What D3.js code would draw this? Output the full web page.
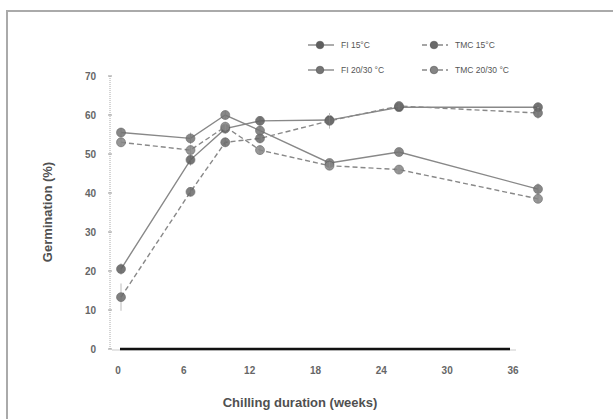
<!DOCTYPE html>
<html>
<head>
<meta charset="utf-8">
<script src="https://cdn.jsdelivr.net/npm/d3@7"></script>
<style>
  body { margin: 0; background: #fff; }
  svg { display: block; }
  text { font-family: "Liberation Sans", Arial, sans-serif; }
</style>
</head>
<body>
<svg id="chart" width="613" height="419"></svg>
<script>
// DATA
var weeks = [0, 6, 9, 12, 18, 24, 36];
var fi15 = [20.5, 48.5, 56.5, 58.5, 58.7, 62, 62];
var tmc15 = [13.3, 40.3, 53, 54, 58.5, 62.3, 60.5];
var fi2030 = [55.5, 54, 60, 56, 47.7, 50.5, 41];
var tmc2030 = [53, 51, 57, 51, 47, 46, 38.5];
var errFi15 = [1.5, 1.5, 1.2, 1.2, 1.5, 1, 1.2];
var errTmc15 = [3.5, 1.2, 1.2, 1.2, 2, 1, 1.5];
var errFi2030 = [1.2, 1.5, 1.2, 1.2, 1, 1, 1.5];
var errTmc2030 = [1.2, 1.2, 1.2, 1.2, 1, 1, 1];
var xTicks = [0, 6, 12, 18, 24, 30, 36];
var yTicks = [0, 10, 20, 30, 40, 50, 60, 70];
var seriesNames = ['FI 15°C', 'TMC 15°C', 'FI 20/30 °C', 'TMC 20/30 °C'];

var series = [
  {name: seriesNames[0], values: fi15, err: errFi15, dash: null, fill: '#5e5e5e'},
  {name: seriesNames[1], values: tmc15, err: errTmc15, dash: '5,3', fill: '#6a6a6a'},
  {name: seriesNames[2], values: fi2030, err: errFi2030, dash: null, fill: '#747474'},
  {name: seriesNames[3], values: tmc2030, err: errTmc2030, dash: '5,3', fill: '#858585'}
];

var svg = d3.select('#chart');

// frame
svg.append('path')
  .attr('d', 'M7,419 L7,11 L613,11')
  .attr('fill', 'none')
  .attr('stroke', '#aaa')
  .attr('stroke-width', 2);

// scales (the scanned figure's points sit on a slightly wider scale than its labels)
var xAxisScale = d3.scaleLinear().domain([0, 36]).range([118, 513]);
var xData = d3.scaleLinear().domain([0, 36]).range([121, 538]);
var y = d3.scaleLinear().domain([0, 70]).range([349, 76]);

// y axis
svg.append('line')
  .attr('x1', 110).attr('x2', 110)
  .attr('y1', y(70)).attr('y2', y(0))
  .attr('stroke', '#aaa').attr('stroke-width', 1).attr('stroke-dasharray', '1,1');

svg.selectAll('.ytick')
  .data(yTicks).enter().append('line')
  .attr('x1', 108).attr('x2', 112)
  .attr('y1', function(d) { return y(d); })
  .attr('y2', function(d) { return y(d); })
  .attr('stroke', '#999');

svg.selectAll('.ylab')
  .data(yTicks).enter().append('text')
  .attr('x', 96)
  .attr('y', function(d) { return y(d); })
  .attr('dy', '0.35em')
  .attr('text-anchor', 'end')
  .attr('font-size', 10)
  .attr('font-weight', 'bold')
  .attr('fill', '#666')
  .text(function(d) { return d; });

// x axis
svg.append('line')
  .attr('x1', 112).attr('x2', 516)
  .attr('y1', y(0) + 1).attr('y2', y(0) + 1)
  .attr('stroke', '#ccc').attr('stroke-width', 1);
svg.append('line')
  .attr('x1', 120).attr('x2', 510)
  .attr('y1', y(0)).attr('y2', y(0))
  .attr('stroke', '#111').attr('stroke-width', 2.5);

svg.selectAll('.xlab')
  .data(xTicks).enter().append('text')
  .attr('x', function(d) { return xAxisScale(d); })
  .attr('y', 374)
  .attr('text-anchor', 'middle')
  .attr('font-size', 10)
  .attr('font-weight', 'bold')
  .attr('fill', '#666')
  .text(function(d) { return d; });

// titles
svg.append('text')
  .attr('x', 300).attr('y', 407)
  .attr('text-anchor', 'middle')
  .attr('font-size', 13)
  .attr('font-weight', 'bold')
  .attr('fill', '#505050')
  .text('Chilling duration (weeks)');

svg.append('text')
  .attr('transform', 'translate(52,212) rotate(-90)')
  .attr('text-anchor', 'middle')
  .attr('font-size', 13)
  .attr('font-weight', 'bold')
  .attr('fill', '#505050')
  .text('Germination (%)');

// lines
var line = d3.line()
  .x(function(d, i) { return xData(weeks[i]); })
  .y(function(d) { return y(d); });

series.forEach(function(s) {
  svg.append('path')
    .datum(s.values)
    .attr('d', line)
    .attr('fill', 'none')
    .attr('stroke', '#888')
    .attr('stroke-width', 1.4)
    .attr('stroke-dasharray', s.dash);

  svg.selectAll(null)
    .data(s.values).enter().append('line')
    .attr('x1', function(d, i) { return xData(weeks[i]); })
    .attr('x2', function(d, i) { return xData(weeks[i]); })
    .attr('y1', function(d, i) { return y(d - s.err[i]); })
    .attr('y2', function(d, i) { return y(d + s.err[i]); })
    .attr('stroke', '#bbb');

  svg.selectAll(null)
    .data(s.values).enter().append('circle')
    .attr('cx', function(d, i) { return xData(weeks[i]); })
    .attr('cy', function(d) { return y(d); })
    .attr('r', 4.5)
    .attr('fill', s.fill)
    .attr('stroke', '#555')
    .attr('stroke-width', 0.6)
    .attr('opacity', 0.85);
});

// legend
var legendPos = [[308, 45], [422, 45], [308, 70], [422, 70]];
var legend = svg.selectAll('.legend')
  .data(series).enter().append('g')
  .attr('transform', function(d, i) { return 'translate(' + legendPos[i][0] + ',' + legendPos[i][1] + ')'; });

legend.append('line')
  .attr('x1', 0).attr('x2', 26)
  .attr('stroke', '#888').attr('stroke-width', 1.4)
  .attr('stroke-dasharray', function(d) { return d.dash; });
legend.append('circle')
  .attr('cx', 12).attr('r', 3.8)
  .attr('fill', function(d) { return d.fill; })
  .attr('stroke', '#555').attr('stroke-width', 0.6);
legend.append('text')
  .attr('x', 33).attr('dy', '0.35em')
  .attr('font-size', 8.5)
  .attr('fill', '#555')
  .text(function(d) { return d.name; });
</script>
</body>
</html>
